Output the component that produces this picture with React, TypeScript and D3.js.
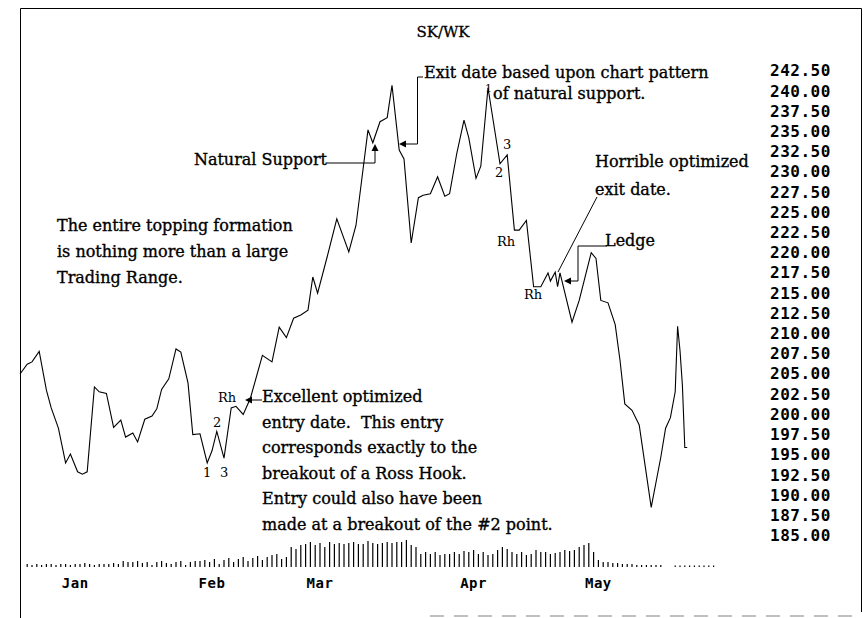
import React from "react";
import * as d3 from "d3";

// ---- data ----
// session index (half-day units) of each drawn vertex of the price line
const sessions = [0,3,5,8,11,13,16,19,21,24,26,28,31,33,36,39,42,44,47,49,52,55,57,59,62,65,67,70,72,75,78,80,82,85,88,90,93,96,101,105,108,111,114,117,120,122,124,128,132,137,140,145,147,150,153,155,158,160,163,166,168,171,174,177,179,182,185,187,190,192,195,200,203,206,208,211,214,217,220,221,223,224,225,230,233,238,240,242,245,248,250,252,255,258,263,267,269,271,273,274,275,276,277,278];
const closes = [205.0,206.2,206.5,207.8,203.0,200.8,198.3,194.0,195.1,192.9,192.6,192.9,203.4,202.8,202.6,198.4,199.3,197.2,197.7,196.6,199.4,199.8,200.7,203.1,204.4,208.1,207.7,203.9,197.5,197.6,194.0,195.5,197.9,194.6,200.8,201.0,200.0,202.0,207.3,206.5,210.8,209.5,211.9,212.3,212.9,217.0,215.0,219.5,224.2,220.1,223.4,235.2,233.6,236.2,236.7,240.7,232.7,231.6,221.2,226.8,227.1,227.3,229.4,227.0,227.3,232.3,236.4,234.2,229.2,230.7,240.4,231.0,232.1,222.8,222.8,224.0,215.8,215.8,217.5,216.5,217.6,215.8,217.5,211.4,214.1,220.0,219.3,214.1,213.8,211.1,206.7,201.3,200.5,198.7,188.5,194.7,198.3,199.6,202.8,210.9,207.9,203.6,195.9,195.9];

// daily volume bars (one per trading day, every 2 session units)
const volumes = [
  3,2,3,2,3,3,2,3,3,2,3,3,4,3,2,3,3,3,4,3,
  6,5,5,6,4,5,2,5,6,4,3,5,6,2,5,6,
  6,7,5,8,3,7,9,5,8,10,6,9,11,7,10,12,13,
  8,10,20,18,22,23,25,22,24,20,25,23,24,23,24,25,23,23,26,24,23,24,25,24,25,25,27,22,20,13,15,13,15,12,13,13,15,13,16,15,17,13,
  15,12,13,17,20,18,15,13,15,12,13,17,15,15,13,14,15,17,16,17,20,
  22,24,15,
  7,5,5,4,4,3,3,3,
  2,2,2,2,2,2,
  0,0,
  1.5,1.5,1.5,1.5,1.5,1.5,1.5,1.5,1.5
];

const monthLabels = ["Jan", "Feb", "Mar", "Apr", "May"];
const monthSessions = [23, 80, 125, 189, 241];

const priceTicks = [242.5,240,237.5,235,232.5,230,227.5,225,222.5,220,217.5,215,212.5,210,207.5,205,202.5,200,197.5,195,192.5,190,187.5,185];

const W = 863;
const H = 618;

export default function App() {
  const x = d3.scaleLinear().domain([0, 290]).range([20, 716]);
  const y = d3.scaleLinear().domain([185, 242.5]).range([535.7, 70.8]);
  const yv = d3.scaleLinear().domain([0, 30]).range([567, 537]);

  const pts = sessions.map((s, i) => [s, closes[i]] as [number, number]);
  const line = d3
    .line<[number, number]>()
    .x((d) => x(d[0]))
    .y((d) => y(d[1]))(pts);

  const serif = "'DejaVu Serif', serif";
  const mono = "'DejaVu Sans Mono', monospace";
  const aSize = 16;

  const arrowLeft = (tx: number, ty: number) => (
    <path d={`M${tx},${ty} L${tx + 7},${ty - 3.5} L${tx + 7},${ty + 3.5} Z`} fill="#000" />
  );
  const arrowUp = (tx: number, ty: number) => (
    <path d={`M${tx},${ty} L${tx - 3.5},${ty + 7} L${tx + 3.5},${ty + 7} Z`} fill="#000" />
  );

  const textLines = (lines: string[], x0: number, y0: number, dy: number) =>
    lines.map((t, i) => (
      <text
        key={i}
        x={x0}
        y={y0 + i * dy}
        fontFamily={serif}
        fontSize={aSize}
        fill="#000"
        stroke="#000"
        strokeWidth={0.35}
        style={{ whiteSpace: "pre" }}
      >
        {t}
      </text>
    ));

  return (
    <svg
      width={W}
      height={H}
      viewBox={`0 0 ${W} ${H}`}
      style={{ position: "absolute", left: 0, top: 0, background: "#fff", display: "block" }}
    >
      <rect x={0} y={0} width={W} height={H} fill="#fff" />
      {/* frame */}
      <line x1={20.5} y1={8.5} x2={861.5} y2={8.5} stroke="#000" strokeWidth={1} />
      <line x1={20.5} y1={8.5} x2={20.5} y2={618} stroke="#000" strokeWidth={1} />
      <line x1={861.5} y1={8.5} x2={861.5} y2={612} stroke="#000" strokeWidth={1} />
      <line x1={430} y1={616} x2={862} y2={616} stroke="#aaa" strokeWidth={1.5} strokeDasharray="14 10" />

      {/* title */}
      <text x={443} y={37} textAnchor="middle" fontFamily={serif} fontSize={15} fill="#000" stroke="#000" strokeWidth={0.3}>
        SK/WK
      </text>

      {/* price axis labels */}
      {priceTicks.map((p) => (
        <text
          key={p}
          x={770}
          y={y(p)}
          dominantBaseline="central"
          fontFamily={mono}
          fontWeight="bold"
          fontSize={16}
          letterSpacing={0.5}
          fill="#000"
        >
          {p.toFixed(2)}
        </text>
      ))}

      {/* volume bars */}
      {volumes.map((v, i) =>
        v > 0 ? (
          <line
            key={i}
            x1={x(3 + 2 * i)}
            x2={x(3 + 2 * i)}
            y1={yv(0)}
            y2={yv(v)}
            stroke="#000"
            strokeWidth={1.2}
          />
        ) : null
      )}

      {/* month labels */}
      {monthLabels.map((m, i) => (
        <text
          key={m}
          x={x(monthSessions[i])}
          y={588}
          textAnchor="middle"
          fontFamily={mono}
          fontWeight="bold"
          fontSize={14}
          letterSpacing={0.5}
          fill="#000"
        >
          {m}
        </text>
      ))}

      {/* price line */}
      <path d={line || ""} fill="none" stroke="#000" strokeWidth={1.1} />

      {/* small pivot labels */}
      <g fontFamily={serif} fontSize={13} fill="#000">
        <text x={218} y={402}>Rh</text>
        <text x={213} y={427}>2</text>
        <text x={203} y={477}>1</text>
        <text x={220} y={477}>3</text>
        <text x={485} y={92} fontSize={11}>1</text>
        <text x={503} y={149}>3</text>
        <text x={495} y={177}>2</text>
        <text x={497} y={246}>Rh</text>
        <text x={524} y={299}>Rh</text>
      </g>

      {/* Natural Support */}
      <text x={327} y={165} textAnchor="end" fontFamily={serif} fontSize={aSize} stroke="#000" strokeWidth={0.35}>
        Natural Support
      </text>
      <polyline points="327,163 375,163 375,150" fill="none" stroke="#000" strokeWidth={1} />
      {arrowUp(375, 144)}

      {/* Exit date */}
      {textLines(["Exit date based upon chart pattern"], 424, 78, 0)}
      {textLines(["of natural support."], 493, 99, 0)}
      <polyline points="423,77 417.5,77 417.5,144 404,144" fill="none" stroke="#000" strokeWidth={1} />
      {arrowLeft(399, 144)}

      {/* Left note */}
      {textLines(["The entire topping formation", "is nothing more than a large", "Trading Range."], 57, 231, 26)}

      {/* Excellent entry */}
      {textLines(
        [
          "Excellent optimized",
          "entry date.  This entry",
          "corresponds exactly to the",
          "breakout of a Ross Hook.",
          "Entry could also have been",
          "made at a breakout of the #2 point.",
        ],
        262,
        402,
        25.6
      )}
      <line x1={262} y1={400} x2={250} y2={400} stroke="#000" strokeWidth={1} />
      {arrowLeft(245, 400)}

      {/* Horrible exit */}
      {textLines(["Horrible optimized", "exit date."], 595, 167, 28)}
      <line x1={597} y1={197} x2={558} y2={272} stroke="#000" strokeWidth={1} />

      {/* Ledge */}
      {textLines(["Ledge"], 605, 246, 0)}
      <polyline points="607,246 578,246 578,281 570,281" fill="none" stroke="#000" strokeWidth={1} />
      {arrowLeft(564, 281)}
    </svg>
  );
}
